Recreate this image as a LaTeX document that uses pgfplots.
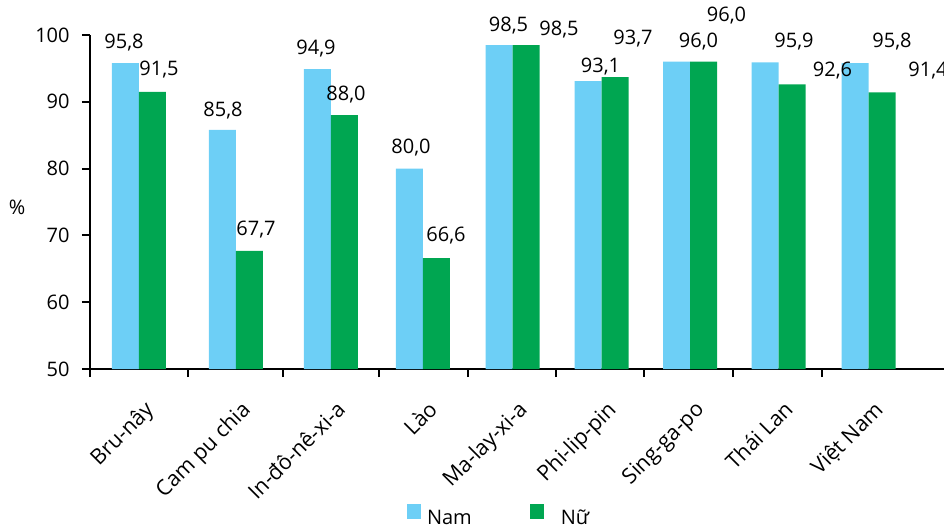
\documentclass[border=0pt]{standalone}
\usepackage{fontspec}
\setmainfont{Open Sans}
\usepackage{pgfplots}
\usepackage{pgfplotstable}
\pgfplotsset{compat=1.18}

\definecolor{cnam}{HTML}{6DCFF6}
\definecolor{cnu}{HTML}{00A651}

% group centre, value, label offsets (pt)
\pgfplotstableread{
x      y     dx     dy
139    95.8  -0.75  10.3
236    85.8   0.25   9.45
331    94.9  -0.75  10.3
423    80.0   0.75  10.55
512.7  98.5   4.65   9.6
601.7  93.1   6.15   7.4
690    96.0  11     9.85
778.7  95.9  14.4   10.2
868.7  95.8  18.4   10.55
}\nam
\pgfplotstableread{
x      y     dx     dy
139    91.5   3.25  10.9
236    67.7   3.25  10.65
331    88.0   0.75  10.35
423    66.6   4.75  11.2
512.7  98.5  16.4    7.5
601.7  93.7   8.9   19.05
690    96.0  11.5   23.1
778.7  92.6  20.15   6.8
868.7  91.4  22.9   10.8
}\nu

\begin{document}
\fontsize{10}{12}\selectfont
\begin{tikzpicture}
\begin{axis}[
  name=ax,
  x=0.5pt, y=3.34pt,
  xmin=90, xmax=944,
  ymin=50, ymax=100,
  separate axis lines,
  axis x line=bottom, axis y line=left,
  axis line style={-, line width=1pt, black},
  ytick={50,60,...,100},
  xtick={139,236,331,423,512.7,601.7,690,778.7,868.7},
  xticklabels={Bru-nây,Cam pu chia,In-đô-nê-xi-a,Lào,Ma-lay-xi-a,Phi-lip-pin,Sing-ga-po,Thái Lan,Việt Nam},
  minor xtick={90,188,283,379,467.7,556,644,733,821.7},
  tick align=outside,
  major x tick style={draw=none},
  minor tick length=4pt, major tick length=4pt,
  every tick/.style={black, line width=1pt},
  xticklabel style={font=\fontsize{10.7}{12}\selectfont, yshift=-11pt, xshift=2pt, rotate=45, anchor=north east, inner sep=0pt},
  yticklabel style={anchor=east, inner sep=0pt, xshift=-6pt},
  /pgf/number format/assume math mode=true,
  every axis y label/.style={at={(axis description cs:0,0.5)}, anchor=center, xshift=-36.5pt, yshift=-2.5pt},
  ylabel={\%},
  ybar, bar width=13.5pt,
  nodes near coords={\pgfmathprintnumber[fixed,fixed zerofill,precision=1,use comma]{\pgfplotspointmeta}},
  visualization depends on={\thisrow{dx} \as \dx},
  visualization depends on={\thisrow{dy} \as \dy},
  every node near coord/.append style={anchor=center, inner sep=0pt, xshift=\dx pt, yshift=\dy pt, black},
  legend columns=2,
  legend style={draw=none, fill=none, inner sep=0pt, outer sep=0pt,
    nodes={inner sep=0pt},
    at={(axis description cs:0.3712,-0.4386)}, anchor=west,
    /tikz/every odd column/.append style={column sep=3pt},
    /tikz/every even column/.append style={column sep=29pt}},
  legend image code/.code={\fill[#1] (0pt,0pt) rectangle (7pt,7.5pt);},
]
\addplot[fill=cnam, draw=none, bar shift=-6.75pt] table[x=x, y=y] {\nam};
\addplot[fill=cnu, draw=none, bar shift=6.75pt] table[x=x, y=y] {\nu};
\legend{Nam, \hspace{5.5pt}Nữ}
\end{axis}
\pgfresetboundingbox
\path[use as bounding box] ([xshift=-45pt,yshift=-79pt]ax.south west) rectangle ([xshift=427pt,yshift=184.5pt]ax.south west);
\end{tikzpicture}
\end{document}
